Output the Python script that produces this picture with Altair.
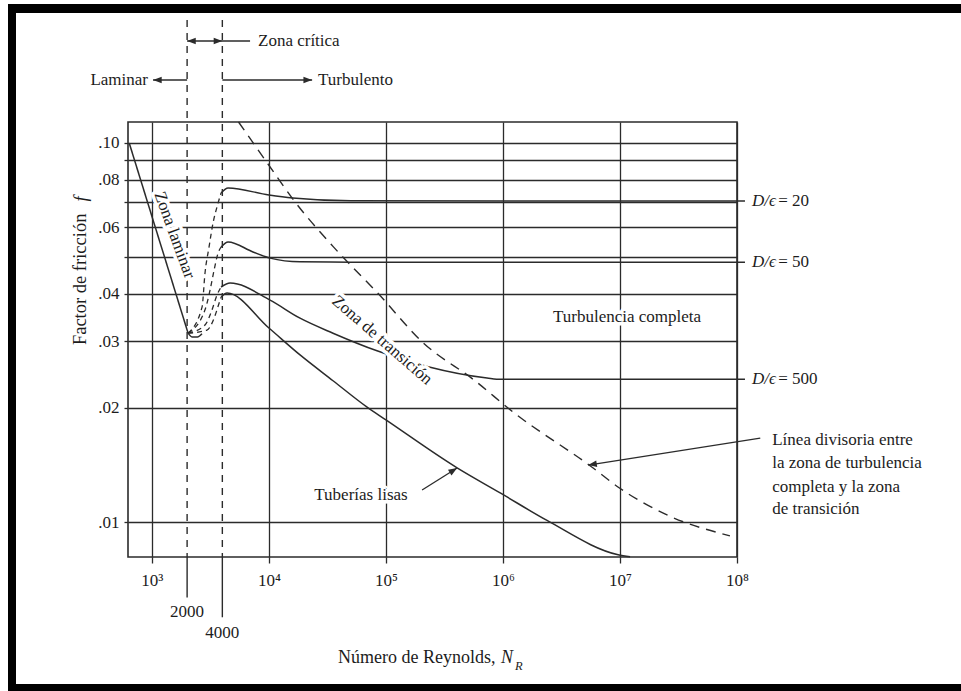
import altair as alt
import pandas as pd

FONT = "Liberation Serif"
INK = "#1c1c1c"
LINE = "#2b2b2b"
FS = 17

# ---------------- axis ticks ----------------
x_tick_values = [1000, 10000, 100000, 1000000, 10000000, 100000000]
x_tick_labels = ["10³", "10⁴", "10⁵", "10⁶", "10⁷", "10⁸"]
y_tick_values = [0.01, 0.02, 0.03, 0.04, 0.05, 0.06, 0.07, 0.08, 0.09, 0.10]
y_tick_labels = [".01", ".02", ".03", ".04", "", ".06", "", ".08", "", ".10"]
x_domain = [625, 100000000]
y_domain = [0.00809, 0.1136]

# ---------------- curves (Re, f) ----------------
laminar_re = [640, 2040]
laminar_f = [0.100, 0.0315]
hook_re = [2040, 2200, 2450, 2680]
hook_f = [0.0315, 0.0308, 0.0308, 0.0314]

de20_re = [3900, 4480, 10000, 16000, 50000, 100000000, 117000000]
de20_f = [0.0738, 0.0761, 0.0729, 0.0716, 0.0704, 0.0703, 0.0703]
de50_re = [3900, 4480, 7310, 10230, 18450, 50000, 100000000, 117000000]
de50_f = [0.0531, 0.0548, 0.0516, 0.0497, 0.0486, 0.0485, 0.0485, 0.0485]
de500_re = [3900, 4660, 10230, 18450, 35300, 83900, 229000, 731000, 964000, 100000000, 117000000]
de500_f = [0.0417, 0.0427, 0.0385, 0.0345, 0.0315, 0.0283, 0.0257, 0.0240, 0.0238, 0.0238, 0.0238]
smooth_re = [3900, 4390, 10000, 18450, 35300, 69000, 100000, 405600, 964000, 2380000, 9640000, 12200000]
smooth_f = [0.0392, 0.0402, 0.0325, 0.0276, 0.0236, 0.0201, 0.0186, 0.0139, 0.0119, 0.0101, 0.0082, 0.0081]

crit20_re = [2040, 2683, 2844, 3080, 3330, 3600, 3900]
crit20_f = [0.0315, 0.0369, 0.0454, 0.0532, 0.0615, 0.0678, 0.0738]
crit50_re = [2040, 2844, 3140, 3400, 3675, 3900]
crit50_f = [0.0315, 0.0363, 0.0409, 0.0462, 0.0512, 0.0531]
crit500_re = [2040, 2844, 3265, 3600, 3900]
crit500_f = [0.0315, 0.0331, 0.0363, 0.0397, 0.0417]
critsm_re = [2040, 2955, 3400, 3750, 3900]
critsm_f = [0.0315, 0.0321, 0.0345, 0.0378, 0.0392]

divider_re = [5500, 9700, 16200, 35600, 85000, 211000, 566000, 1250000, 5700000, 9900000, 26000000, 87000000]
divider_f = [0.1136, 0.0885, 0.0708, 0.0532, 0.0402, 0.0296, 0.0237, 0.0194, 0.0140, 0.0123, 0.0104, 0.0092]

critical_re = [2000, 4000]
critical_top_f = [0.2111, 0.2111]
critical_axis_f = [0.00809, 0.00809]
critical_low_f = [0.00633, 0.00561]

# ---------------- annotations ----------------
inplot_text = ["Zona laminar", "Zona de transición", "Turbulencia completa", "Tuberías lisas"]
inplot_re = [1560, 92700, 11500000, 61200]
inplot_f = [0.0572, 0.0302, 0.0348, 0.01178]
inplot_ang = [70, 41, 0, 0]

left_text = ["Zona crítica", "Turbulento", "Línea divisoria entre", "la zona de turbulencia",
             "completa y la zona", "de transición", "= 20", "= 50", "= 500"]
left_re = [8070, 26300, 200000000, 200000000, 200000000, 200000000, 225000000, 225000000, 225000000]
left_f = [0.1858, 0.1466, 0.01646, 0.01431, 0.01237, 0.01082, 0.0703, 0.0485, 0.0238]

right_text = ["Laminar"]
right_re = [927]
right_f = [0.1466]

ital_text = ["D/ϵ", "D/ϵ", "D/ϵ"]
ital_re = [134500000, 134500000, 134500000]
ital_f = [0.0703, 0.0485, 0.0238]

xtitle_text = ["Número de Reynolds,"]
xtitle_re = [39000]
xtitle_f = [0.004377]
xvar_text = ["N"]
xvar_re = [964000]
xvar_f = [0.004377]
sub_text = ["R"]
sub_re = [1265000]
sub_f = [0.004169]

center_text = ["2000", "4000"]
center_re = [2000, 4000]
center_f = [0.00579, 0.00510]

ytitle_text = ["Factor de fricción"]
ytitle_re = [243]
ytitle_f = [0.0293]
yvar_text = ["f"]
yvar_re = [246]
yvar_f = [0.0712]

# arrows: shafts (from -> to) and heads (tip, angle)
shaft_re = [2000, 1023, 4000, 203700, 158000000]
shaft_f = [0.1858, 0.1466, 0.1466, 0.01215, 0.01666]
shaft_re2 = [6900, 2000, 23400, 405600, 5350000]
shaft_f2 = [0.1858, 0.1466, 0.1466, 0.01389, 0.01414]
head_re = [2000, 4000, 1023, 23400, 405600, 5350000]
head_f = [0.1858, 0.1858, 0.1466, 0.1466, 0.01389, 0.01414]
head_ang = [180, 0, 180, 0, 328, 171]


def ternary(values, labels):
    expr = "''"
    for v, l in reversed(list(zip(values, labels))):
        expr = f"datum.value == {v} ? '{l}' : ({expr})"
    return expr


xs = alt.Scale(type="log", domain=x_domain, nice=False)
ys = alt.Scale(type="log", domain=y_domain, nice=False)

x_axis = alt.Axis(values=x_tick_values, labelExpr=ternary(x_tick_values, x_tick_labels),
                  grid=True, gridColor=LINE, gridWidth=1.3, gridOpacity=1,
                  ticks=True, tickColor=LINE, tickWidth=1.3, tickSize=6,
                  labelFont=FONT, labelFontSize=FS, labelColor=INK, labelPadding=9,
                  labelFlush=False, labelOverlap=False, domain=False, title=None)
y_axis = alt.Axis(values=y_tick_values, labelExpr=ternary(y_tick_values, y_tick_labels),
                  grid=True, gridColor=LINE, gridWidth=1.3, gridOpacity=1,
                  ticks=True, tickColor=LINE, tickWidth=1.3, tickSize=4,
                  labelFont=FONT, labelFontSize=FS, labelColor=INK, labelPadding=5,
                  labelFlush=False, labelOverlap=False, domain=False, title=None)

X = alt.X("Re:Q", scale=xs, axis=x_axis)
Y = alt.Y("f:Q", scale=ys, axis=y_axis)
X2 = alt.X2("Re2:Q")
Y2 = alt.Y2("f2:Q")


def series(pairs):
    frames = []
    for name, re, f in pairs:
        frames.append(pd.DataFrame({"Re": re, "f": f, "s": name}))
    return pd.concat(frames, ignore_index=True)


solid_df = series([("20", de20_re, de20_f), ("50", de50_re, de50_f),
                   ("500", de500_re, de500_f), ("lisa", smooth_re, smooth_f)])
crit_df = series([("20", crit20_re, crit20_f), ("50", crit50_re, crit50_f),
                  ("500", crit500_re, crit500_f), ("lisa", critsm_re, critsm_f)])
lam_df = series([("lam", laminar_re, laminar_f), ("hook", hook_re, hook_f)])
div_df = pd.DataFrame({"Re": divider_re, "f": divider_f})

one = pd.DataFrame({"a": [0]})

layers = []

# frame
for (x0, x1, y0, y1) in [(-120, 833, -118, -109), (-120, -112, -118, 569), (-120, 833, 562, 569)]:
    layers.append(alt.Chart(one).mark_rect(color="black").encode(
        x=alt.value(x0), x2=alt.value(x1), y=alt.value(y0), y2=alt.value(y1)))

# critical Reynolds dashed verticals
layers.append(alt.Chart(pd.DataFrame({"Re": critical_re, "f": critical_top_f, "f2": critical_axis_f}))
              .mark_rule(color=LINE, strokeWidth=1.4, strokeDash=[7, 6]).encode(X, Y, Y2))
layers.append(alt.Chart(pd.DataFrame({"Re": critical_re, "f": critical_axis_f, "f2": critical_low_f}))
              .mark_rule(color=LINE, strokeWidth=1.4).encode(X, Y, Y2))

# curves
layers.append(alt.Chart(lam_df).mark_line(color=LINE, strokeWidth=1.5, interpolate="monotone")
              .encode(X, Y, detail="s:N"))
layers.append(alt.Chart(solid_df).mark_line(color=LINE, strokeWidth=1.5, interpolate="monotone")
              .encode(X, Y, detail="s:N"))
layers.append(alt.Chart(crit_df).mark_line(color=LINE, strokeWidth=1.3, strokeDash=[5, 4],
                                           interpolate="monotone").encode(X, Y, detail="s:N"))
layers.append(alt.Chart(div_df).mark_line(color=LINE, strokeWidth=1.4, strokeDash=[10, 7],
                                          interpolate="monotone").encode(X, Y))

# arrows
layers.append(alt.Chart(pd.DataFrame({"Re": shaft_re, "f": shaft_f, "Re2": shaft_re2, "f2": shaft_f2}))
              .mark_rule(color=LINE, strokeWidth=1.3).encode(X, Y, X2, Y2))
layers.append(alt.Chart(pd.DataFrame({"Re": head_re, "f": head_f, "ang": head_ang}))
              .mark_point(shape="M0,0L-1,-0.38L-1,0.38Z", filled=True, size=300, color=LINE, opacity=1)
              .encode(X, Y, angle=alt.Angle("ang:Q", scale=None)))

# in-plot labels with white halo
inplot_df = pd.DataFrame({"Re": inplot_re, "f": inplot_f, "t": inplot_text, "ang": inplot_ang})
layers.append(alt.Chart(inplot_df).mark_text(font=FONT, fontSize=FS, fill="white", stroke="white",
                                             strokeWidth=7, strokeJoin="round", align="center",
                                             baseline="middle")
              .encode(X, Y, text="t:N", angle=alt.Angle("ang:Q", scale=None)))
layers.append(alt.Chart(inplot_df).mark_text(font=FONT, fontSize=FS, fill=INK, align="center",
                                             baseline="middle")
              .encode(X, Y, text="t:N", angle=alt.Angle("ang:Q", scale=None)))


def text_layer(re, f, txt, **kw):
    df = pd.DataFrame({"Re": re, "f": f, "t": txt})
    params = dict(font=FONT, fontSize=FS, color=INK, baseline="middle")
    params.update(kw)
    return alt.Chart(df).mark_text(**params).encode(X, Y, text="t:N")


layers.append(text_layer(left_re, left_f, left_text, align="left"))
layers.append(text_layer(right_re, right_f, right_text, align="right"))
layers.append(text_layer(ital_re, ital_f, ital_text, align="left", fontStyle="italic"))
layers.append(text_layer(xtitle_re, xtitle_f, xtitle_text, align="left", fontSize=18))
layers.append(text_layer(xvar_re, xvar_f, xvar_text, align="left", fontSize=18, fontStyle="italic"))
layers.append(text_layer(sub_re, sub_f, sub_text, align="left", fontStyle="italic", fontSize=12.5))
layers.append(text_layer(center_re, center_f, center_text, align="center"))
layers.append(text_layer(ytitle_re, ytitle_f, ytitle_text, align="left", angle=270, fontSize=18.5))
layers.append(text_layer(yvar_re, yvar_f, yvar_text, align="center", angle=270, fontSize=18.5,
                         fontStyle="italic"))

chart = alt.layer(*layers).properties(
    width=609, height=435,
    autosize=alt.AutoSizeParams(type="none"),
    padding={"left": 128, "top": 122, "right": 224, "bottom": 134},
    background="white",
).configure_view(stroke=LINE, strokeWidth=1.6)

chart.save("out.html", embed_options={"renderer": "svg", "actions": False})
